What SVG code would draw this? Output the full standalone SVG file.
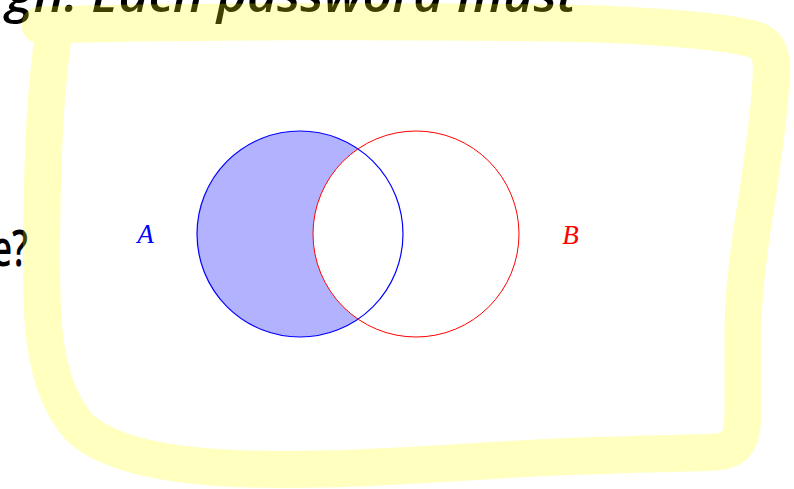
<svg xmlns="http://www.w3.org/2000/svg" width="794" height="489" viewBox="0 0 794 489">
  <style>
    .bg { font-family: "Open Sans", "DejaVu Sans", sans-serif; fill: #000; font-weight: 600; }
    .lbl { font-family: "Liberation Serif", "DejaVu Serif", serif; font-style: italic; font-size: 27px; }
    .hl { fill: none; stroke: #ffff00; stroke-opacity: 0.25; stroke-width: 37; stroke-linecap: round; stroke-linejoin: round; }
  </style>
  <rect width="794" height="489" fill="#fff"/>
  <g id="background-text">
    <text class="bg" x="6" y="12" font-size="48" font-style="italic" textLength="570" lengthAdjust="spacingAndGlyphs">gh. Each password must</text>
    <text class="bg" x="-8" y="266" font-size="50" textLength="36" lengthAdjust="spacingAndGlyphs">e?</text>
  </g>
  <g id="venn">
    <g id="setA">
      <path d="M 358 148.9 A 103 103 0 1 0 358 319.1 A 103 103 0 0 1 358 148.9 Z" fill="#0000ff" fill-opacity="0.3" stroke="none"/>
      <circle cx="300" cy="234" r="103" fill="none" stroke="#0000ff" stroke-width="1.2"/>
      <text class="lbl" x="145.5" y="243" fill="#0000ff" text-anchor="middle">A</text>
    </g>
    <g id="setB">
      <circle cx="416" cy="234" r="103" fill="none" stroke="#ff0000" stroke-width="1"/>
      <text class="lbl" x="570.5" y="244" fill="#ff0000" text-anchor="middle">B</text>
    </g>
  </g>
  <g id="connectors"></g>
  <g id="highlight">
    <path class="hl" d="M 40 25 C 150 22 400 20 600 24 C 690 28 745 34 760 42 C 772 49 772 62 771 80 C 769 120 760 180 752 230 C 746 275 743 300 743 330 L 743 410 C 743 440 737 451 715 452 C 680 454 600 454 500 460 C 400 466 330 471 250 469 C 170 467 110 455 80 428 C 56 402 46 362 43 320 C 40 270 42 180 45 120 C 47 85 50 62 52 45"/>
  </g>
</svg>
